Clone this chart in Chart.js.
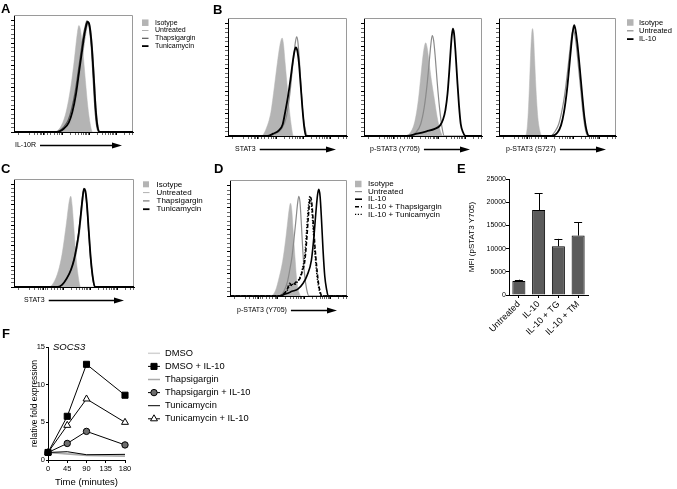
<!DOCTYPE html>
<html>
<head>
<meta charset="utf-8">
<script src="https://cdn.jsdelivr.net/npm/chart.js@4.4.1/dist/chart.umd.min.js"></script>
<style>
  html, body { margin: 0; padding: 0; background: #fff; }
  #fig { position: relative; width: 677px; height: 489px; overflow: hidden; font-family: "Liberation Sans", Arial, sans-serif; }
  #fig canvas { position: absolute; left: 0; top: 0; }
  .tag { position: absolute; font-weight: bold; font-size: 13px; line-height: 13px; }
  .gene { position: absolute; font-style: italic; font-size: 9.5px; line-height: 10px; }
</style>
</head>
<body>
<div id="fig">
  <canvas id="cA" width="677" height="489"></canvas>
  <canvas id="cB1" width="677" height="489"></canvas>
  <canvas id="cB2" width="677" height="489"></canvas>
  <canvas id="cB3" width="677" height="489"></canvas>
  <canvas id="cC" width="677" height="489"></canvas>
  <canvas id="cD" width="677" height="489"></canvas>
  <canvas id="cE" width="677" height="489"></canvas>
  <canvas id="cF" width="677" height="489"></canvas>
  <div class="tag" style="left:1px;top:2px">A</div>
  <div class="tag" style="left:213px;top:3px">B</div>
  <div class="tag" style="left:1px;top:162px">C</div>
  <div class="tag" style="left:214px;top:162px">D</div>
  <div class="tag" style="left:457px;top:162px">E</div>
  <div class="tag" style="left:2px;top:327px">F</div>
  <div class="gene" style="left:53px;top:342px">SOCS3</div>
</div>
<script>
// histogram x positions are % of the plot width, heights % of the plot height
const aIsoX = [0, 34, 39, 43, 46, 48.5, 50.5, 52, 53.3, 54.5, 55.7, 57, 58.5, 60, 62, 64, 66, 100];
const aIsoY = [0, 0, 4, 14, 28, 44, 60, 74, 85, 91, 88, 78, 62, 44, 22, 7, 0, 0];
const aUntX = [0, 36.5, 42.5, 46.5, 49.5, 52.5, 55, 57.5, 59.5, 61, 62.3, 63.5, 64.7, 66, 67.5, 69, 70.5, 72.5, 100];
const aUntY = [0, 0, 2, 6, 14, 28, 46, 64, 79, 88, 93, 92, 85, 70, 46, 21, 6, 0, 0];
const aThaX = [0, 35.5, 41.5, 45.5, 48.5, 51.5, 54, 56.5, 58.5, 60, 61.2, 62.4, 63.6, 65, 66.5, 68, 69.5, 71.5, 100];
const aThaY = [0, 0, 4, 10, 20, 35, 52, 70, 84, 91, 95, 94, 87, 72, 46, 20, 5, 0, 0];
const aTunX = [0, 36, 42, 46, 49, 52, 54.5, 57, 59, 60.5, 61.8, 63, 64.2, 65.5, 67, 68.5, 70, 72, 100];
const aTunY = [0, 0, 3, 8, 17, 32, 50, 68, 82, 90, 94, 93, 86, 72, 48, 22, 6, 0, 0];

const b1IsoX = [0, 28, 32, 36, 39, 41.5, 43.3, 44.5, 45.5, 46.6, 48, 49.5, 51, 53, 55, 100];
const b1IsoY = [0, 0, 6, 20, 42, 62, 75, 81, 83, 78, 62, 45, 28, 10, 0, 0];
const b1UntX = [0, 33, 40, 45, 49, 52, 54, 55.5, 56.7, 57.7, 58.7, 60, 61.5, 63, 65, 67, 100];
const b1UntY = [0, 0, 2, 6, 16, 36, 56, 70, 80, 84, 80, 64, 40, 18, 5, 0, 0];
const b1IlX = [0, 33, 38, 43, 46, 48, 50.5, 52.5, 54.3, 55.7, 57, 58.3, 59.6, 61, 62.5, 64, 65.5, 100];
const b1IlY = [0, 0, 2, 5, 10, 20, 34, 48, 62, 71, 75, 72, 62, 44, 24, 8, 0, 0];

const b2IsoX = [0, 35, 40, 43, 46, 48.3, 50, 51.2, 52.3, 53.5, 55, 57, 59.5, 62, 64.5, 67, 100];
const b2IsoY = [0, 0, 4, 12, 30, 52, 68, 76, 79, 75, 64, 48, 32, 16, 5, 0, 0];
const b2UntX = [0, 38, 44, 48, 51, 53.5, 55.3, 56.6, 57.8, 59, 60.3, 62, 64, 66, 68, 100];
const b2UntY = [0, 0, 3, 10, 24, 44, 63, 77, 85, 81, 68, 46, 24, 8, 0, 0];
const b2IlX = [0, 36, 45, 53, 60, 64.5, 67, 69, 70.8, 72.2, 73.4, 74.4, 75.3, 76.3, 77.5, 79, 80.5, 82, 84, 86, 100];
const b2IlY = [0, 0, 2, 4, 6, 9, 14, 22, 36, 54, 72, 85, 91, 87, 72, 48, 26, 10, 3, 0, 0];

const b3IsoX = [0, 22.5, 24, 25, 26, 27, 27.9, 28.7, 29.5, 30.4, 31.5, 33, 35, 37, 100];
const b3IsoY = [0, 0, 6, 20, 42, 68, 86, 91, 85, 66, 42, 18, 4, 0, 0];
const b3UntX = [0, 44, 48, 51, 53.5, 56, 58.3, 60.3, 62, 63.3, 64.6, 66.2, 68, 70, 72, 74, 76, 100];
const b3UntY = [0, 0, 4, 10, 20, 34, 52, 70, 84, 90, 87, 76, 58, 38, 18, 5, 0, 0];
const b3IlX = [0, 45, 50, 53, 55.5, 58, 60, 61.7, 63, 64.2, 65.4, 67, 69, 71, 73, 75, 77, 100];
const b3IlY = [0, 0, 3, 9, 20, 38, 58, 76, 88, 94, 90, 78, 58, 36, 16, 4, 0, 0];

const cIsoX = [0, 29, 33, 37, 40, 42, 43.8, 45.2, 46.3, 47.3, 48.4, 49.8, 51.5, 53.5, 55.5, 100];
const cIsoY = [0, 0, 4, 15, 30, 45, 60, 73, 81, 84, 76, 56, 30, 10, 0, 0];
const cUntX = [0, 36.5, 40.5, 44.5, 48, 50.5, 52.5, 54.5, 56, 57.3, 58.6, 59.8, 61, 62.5, 64.2, 66, 67.7, 100];
const cUntY = [0, 0, 2, 7, 15, 24, 35, 49, 65, 80, 89, 87, 75, 51, 25, 7, 0, 0];
const cThaX = [0, 35.8, 39.8, 43.8, 47.3, 49.8, 51.8, 53.8, 55.4, 56.8, 58.1, 59.3, 60.6, 62.1, 63.8, 65.6, 67.3, 100];
const cThaY = [0, 0, 2, 8, 16, 25, 36, 50, 66, 81, 90, 88, 76, 52, 26, 8, 0, 0];
const cTunX = [0, 36, 40, 44, 47.5, 50, 52, 54, 55.6, 57, 58.3, 59.5, 60.8, 62.3, 64, 65.8, 67.5, 100];
const cTunY = [0, 0, 2, 8, 16, 25, 36, 50, 66, 81, 91, 89, 76, 52, 26, 8, 0, 0];

const dIsoX = [0, 35, 39, 42, 45, 47.5, 49.3, 50.6, 51.7, 52.8, 54, 55.5, 57, 59, 61, 100];
const dIsoY = [0, 0, 5, 16, 30, 48, 64, 75, 80, 74, 56, 34, 14, 3, 0, 0];
const dUntX = [0, 42, 46, 49, 51, 53, 55, 56.6, 57.8, 58.8, 59.8, 61, 62.3, 63.8, 65.5, 67.5, 100];
const dUntY = [0, 0, 4, 12, 22, 34, 52, 68, 80, 86, 81, 62, 38, 18, 6, 0, 0];
const dIlX = [0, 42, 48, 53, 58, 62.5, 66, 69.6, 71.8, 73.4, 74.8, 75.9, 77, 78.2, 79.5, 81, 82.5, 84, 100];
const dIlY = [0, 0, 2, 4, 6, 11, 18, 31, 52, 72, 87, 92, 86, 66, 40, 17, 6, 0, 0];
const dThaX = [0, 42, 46, 49, 51, 53, 55.4, 57.5, 59.7, 62, 64, 65.8, 66.9, 67.9, 68.8, 69.8, 71, 72.5, 74, 75.5, 77, 78.5, 100];
const dThaY = [0, 0, 2, 6, 11, 9, 11, 13, 15, 22, 31, 52, 68, 80, 85, 81, 66, 44, 26, 12, 4, 0, 0];
const dTunX = [0, 42, 46, 49, 51, 53, 55.4, 57.5, 59.7, 62, 64, 65.3, 66.4, 67.4, 68.2, 69.2, 70.5, 72, 73.5, 75, 76.5, 78, 100];
const dTunY = [0, 0, 2, 5, 9, 10, 10, 12, 16, 24, 36, 54, 70, 81, 86, 82, 66, 44, 26, 12, 4, 0, 0];

// flow axis tick marks (biexponential look) and count axis tick marks
const flowTicks = [4, 13, 17, 20, 22, 23.5, 24.6, 26, 28, 31, 34, 36.5, 38.5, 40, 41, 47.8, 51.7, 54.5, 56.7, 58.5, 60, 61.3, 62.5, 63.5, 70.3, 74.2, 77, 79.2, 81, 82.5, 83.8, 85, 86, 92.8, 96.7, 99.5];
const flowMajor = [24.6, 41, 63.5, 86];
const countTicks = [0, 3.8, 7.6, 11.4, 15.2, 19, 22.8, 26.6, 30.4, 34.2, 38, 41.8, 45.6, 49.4, 53.2, 57, 60.8, 64.6, 68.4, 72.2, 76, 79.8, 83.6, 87.4, 91.2, 95];
const countMajor = [0, 19, 38, 57, 76, 95];

// panel E
const eLabels = ['Untreated', 'IL-10', 'IL-10 + TG', 'IL-10 + TM'];
const eMeans = [3000, 18300, 10500, 12800];
const eSem = [300, 3600, 1600, 2900];

// panel F
const fTimes = [0, 45, 90, 180];
const fDmso = [1, 0.85, 0.7, 0.6];
const fDmsoIl10 = [1, 5.8, 12.7, 8.6];
const fThap = [1, 0.8, 0.6, 0.5];
const fThapIl10 = [1, 2.2, 3.8, 2.0];
const fTuni = [1, 1.1, 0.7, 0.75];
const fTuniIl10 = [1, 4.6, 8.1, 5.0];

const PAGE_W = 677, PAGE_H = 489;
const FONT = '"Liberation Sans", Arial, Helvetica, sans-serif';
Chart.defaults.font.family = FONT;
Chart.defaults.color = '#000';

function pts(xs, ys) {
    return xs.map((x, i) => ({ x: x, y: ys[i] }));
}

function isoSet(xs, ys) {
    return {
        label: 'Isotype', data: pts(xs, ys), fill: 'origin',
        backgroundColor: '#b4b4b4', borderColor: '#b4b4b4', borderWidth: 0.5,
        pointRadius: 0, cubicInterpolationMode: 'monotone', order: 10
    };
}

function lineSet(label, xs, ys, color, width, dash, order) {
    return {
        label: label, data: pts(xs, ys), fill: false,
        borderColor: color, borderWidth: width, borderDash: dash || [],
        pointRadius: 0, cubicInterpolationMode: 'monotone', order: order
    };
}

function drawMarker(ctx, ds, x, y) {
    const r = ds.pointRadius;
    ctx.fillStyle = ds.pointBackgroundColor;
    ctx.strokeStyle = ds.pointBorderColor;
    ctx.lineWidth = ds.pointBorderWidth;
    ctx.beginPath();
    if (ds.pointStyle === 'rect') {
        const s = Math.SQRT1_2 * r;
        ctx.rect(x - s, y - s, 2 * s, 2 * s);
    } else if (ds.pointStyle === 'triangle') {
        ctx.moveTo(x, y - r);
        ctx.lineTo(x + Math.sin(2 * Math.PI / 3) * r, y - Math.cos(2 * Math.PI / 3) * r);
        ctx.lineTo(x + Math.sin(4 * Math.PI / 3) * r, y - Math.cos(4 * Math.PI / 3) * r);
        ctx.closePath();
    } else {
        ctx.arc(x, y, r, 0, Math.PI * 2);
    }
    ctx.fill();
    ctx.stroke();
}

// legend drawn beside the plot, built from the datasets
const sideLegend = {
    id: 'sideLegend',
    afterDraw(chart, args, o) {
        const ctx = chart.ctx;
        ctx.save();
        ctx.font = o.size + 'px ' + FONT;
        ctx.textBaseline = 'middle';
        ctx.textAlign = 'left';
        chart.data.datasets.forEach((ds, i) => {
            const y = o.y + i * o.step;
            if (ds.fill) {
                ctx.fillStyle = ds.backgroundColor;
                ctx.fillRect(o.x, y - o.box / 2, o.box, o.box);
            } else {
                ctx.strokeStyle = ds.borderColor;
                ctx.lineWidth = ds.borderWidth;
                ctx.setLineDash(ds.borderDash || []);
                ctx.beginPath();
                ctx.moveTo(o.x, y);
                ctx.lineTo(o.x + o.w, y);
                ctx.stroke();
                ctx.setLineDash([]);
                if (ds.pointRadius) drawMarker(ctx, ds, o.x + o.w / 2, y);
            }
            ctx.fillStyle = '#000';
            ctx.fillText(ds.label, o.textX, y);
        });
        ctx.restore();
    }
};

// x axis label of the flow panels, followed by an arrow
const axisArrow = {
    id: 'axisArrow',
    afterDraw(chart, args, o) {
        const ctx = chart.ctx;
        ctx.save();
        ctx.font = o.size + 'px ' + FONT;
        ctx.fillStyle = '#000';
        ctx.textBaseline = 'middle';
        ctx.fillText(o.text, o.tx, o.ty);
        const tw = ctx.measureText(o.text).width;
        const y = Math.round(o.ty) + 0.5;
        const x0 = o.tx + tw + 4;
        ctx.strokeStyle = '#000';
        ctx.lineWidth = 1.3;
        ctx.beginPath();
        ctx.moveTo(x0, y);
        ctx.lineTo(o.end - 8, y);
        ctx.stroke();
        ctx.beginPath();
        ctx.moveTo(o.end, y);
        ctx.lineTo(o.end - 10, y - 3);
        ctx.lineTo(o.end - 10, y + 3);
        ctx.closePath();
        ctx.fill();
        ctx.restore();
    }
};

// light grey frame on top and right of the flow panels
const grayBox = {
    id: 'grayBox',
    beforeDatasetsDraw(chart) {
        const { ctx, chartArea: a } = chart;
        ctx.save();
        ctx.strokeStyle = '#9a9a9a';
        ctx.lineWidth = 1;
        ctx.beginPath();
        ctx.moveTo(a.left, Math.round(a.top) + 0.5);
        ctx.lineTo(Math.round(a.right) - 0.5, Math.round(a.top) + 0.5);
        ctx.lineTo(Math.round(a.right) - 0.5, a.bottom);
        ctx.stroke();
        ctx.restore();
    }
};

const errorBars = {
    id: 'errorBars',
    afterDatasetsDraw(chart) {
        const ctx = chart.ctx;
        const ys = chart.scales.y;
        const ds = chart.data.datasets[0];
        chart.getDatasetMeta(0).data.forEach((bar, i) => {
            const top = ys.getPixelForValue(ds.data[i] + ds.errors[i]);
            ctx.save();
            ctx.strokeStyle = '#000';
            ctx.lineWidth = 1;
            ctx.beginPath();
            ctx.moveTo(Math.round(bar.x) + 0.5, bar.y);
            ctx.lineTo(Math.round(bar.x) + 0.5, top);
            ctx.moveTo(bar.x - 4, Math.round(top) + 0.5);
            ctx.lineTo(bar.x + 4, Math.round(top) + 0.5);
            ctx.stroke();
            ctx.restore();
        });
    }
};

// lab: {text, tx, ty, end} for the axis label and arrow
function histChart(id, area, lab, datasets, legend) {
    return new Chart(document.getElementById(id), {
        type: 'line',
        data: { datasets: datasets },
        options: {
            responsive: false,
            animation: false,
            events: [],
            layout: { padding: { left: area.l - 3, top: area.t, right: PAGE_W - area.r, bottom: PAGE_H - area.b - 20 } },
            plugins: {
                legend: { display: false },
                tooltip: { enabled: false },
                sideLegend: legend || false,
                axisArrow: Object.assign({ size: 7 }, lab)
            },
            scales: {
                x: {
                    type: 'linear', min: 0, max: 100,
                    afterBuildTicks: (s) => { s.ticks = flowTicks.map((v) => ({ value: v })); },
                    afterFit: (s) => { s.height = 20; },
                    grid: {
                        drawOnChartArea: false, tickLength: 3, color: '#000',
                        tickWidth: (c) => (c.tick && flowMajor.includes(c.tick.value) ? 1 : 0.6)
                    },
                    border: { color: '#000', width: 1 },
                    ticks: { display: false }
                },
                y: {
                    type: 'linear', min: 0, max: 100,
                    afterBuildTicks: (s) => { s.ticks = countTicks.map((v) => ({ value: v })); },
                    afterFit: (s) => { s.width = 3; },
                    grid: {
                        drawOnChartArea: false, tickLength: 3, color: '#000',
                        tickWidth: (c) => (c.tick && countMajor.includes(c.tick.value) ? 1 : 0.6)
                    },
                    border: { color: '#000', width: 1 },
                    ticks: { display: false }
                }
            }
        },
        plugins: [grayBox, axisArrow, sideLegend]
    });
}

const UNT_LIGHT = '#b0b0b0', GREY = '#8a8a8a';

histChart('cA', { l: 14, t: 15, r: 133, b: 132 }, { text: 'IL-10R', tx: 15, ty: 145, end: 122 }, [
    isoSet(aIsoX, aIsoY),
    lineSet('Untreated', aUntX, aUntY, UNT_LIGHT, 1, null, 2),
    lineSet('Thapsigargin', aThaX, aThaY, '#555', 1.2, null, 1),
    lineSet('Tunicamycin', aTunX, aTunY, '#000', 1.8, null, 0)
], { x: 142, w: 6.5, box: 6.5, textX: 155, y: 22.7, step: 7.8, size: 7 });

histChart('cB1', { l: 228, t: 18, r: 347, b: 136 }, { text: 'STAT3', tx: 235, ty: 149, end: 336 }, [
    isoSet(b1IsoX, b1IsoY),
    lineSet('Untreated', b1UntX, b1UntY, GREY, 1.2, null, 1),
    lineSet('IL-10', b1IlX, b1IlY, '#000', 1.8, null, 0)
], null);

histChart('cB2', { l: 364, t: 18, r: 482, b: 136 }, { text: 'p-STAT3 (Y705)', tx: 370, ty: 149, end: 470 }, [
    isoSet(b2IsoX, b2IsoY),
    lineSet('Untreated', b2UntX, b2UntY, GREY, 1.2, null, 1),
    lineSet('IL-10', b2IlX, b2IlY, '#000', 1.8, null, 0)
], null);

histChart('cB3', { l: 499, t: 18, r: 616, b: 136 }, { text: 'p-STAT3 (S727)', tx: 506, ty: 149, end: 606 }, [
    isoSet(b3IsoX, b3IsoY),
    lineSet('Untreated', b3UntX, b3UntY, GREY, 1.2, null, 1),
    lineSet('IL-10', b3IlX, b3IlY, '#000', 1.8, null, 0)
], { x: 627, w: 6.5, box: 6.5, textX: 639, y: 22.5, step: 8.3, size: 7.5 });

histChart('cC', { l: 14, t: 179, r: 134, b: 287 }, { text: 'STAT3', tx: 24, ty: 300, end: 124 }, [
    isoSet(cIsoX, cIsoY),
    lineSet('Untreated', cUntX, cUntY, UNT_LIGHT, 1, null, 2),
    lineSet('Thapsigargin', cThaX, cThaY, '#777', 1.2, null, 1),
    lineSet('Tunicamycin', cTunX, cTunY, '#000', 1.8, null, 0)
], { x: 143, w: 6.5, box: 6, textX: 156.5, y: 184.3, step: 8.3, size: 8 });

histChart('cD', { l: 230, t: 180, r: 347, b: 296 }, { text: 'p-STAT3 (Y705)', tx: 237, ty: 310, end: 337 }, [
    isoSet(dIsoX, dIsoY),
    lineSet('Untreated', dUntX, dUntY, GREY, 1.2, null, 3),
    lineSet('IL-10', dIlX, dIlY, '#000', 1.6, null, 0),
    lineSet('IL-10 + Thapsigargin', dThaX, dThaY, '#000', 1.6, [4, 2], 1),
    lineSet('IL-10 + Tunicamycin', dTunX, dTunY, '#000', 1.4, [1.2, 1.6], 2)
], { x: 355, w: 7, box: 6.5, textX: 368, y: 184, step: 7.6, size: 8 });

// E: bar chart with SEM bars
new Chart(document.getElementById('cE'), {
    type: 'bar',
    data: {
        labels: eLabels,
        datasets: [{
            data: eMeans, errors: eSem,
            backgroundColor: '#5b5b5b', borderColor: '#000', borderWidth: 1,
            barPercentage: 0.66, categoryPercentage: 1
        }]
    },
    options: {
        responsive: false,
        animation: false,
        events: [],
        layout: { padding: { left: 463, top: 179, right: PAGE_W - 588, bottom: PAGE_H - 295 - 60 } },
        plugins: { legend: { display: false }, tooltip: { enabled: false } },
        scales: {
            x: {
                afterFit: (s) => { s.height = 60; },
                grid: { drawOnChartArea: false, offset: false, tickLength: 3, color: '#000' },
                border: { color: '#000', width: 1 },
                ticks: { font: { size: 9 }, maxRotation: 45, minRotation: 45, padding: 1 }
            },
            y: {
                min: 0, max: 25000,
                afterFit: (s) => { s.width = 46; },
                grid: { drawOnChartArea: false, tickLength: 3, color: '#000' },
                border: { color: '#000', width: 1 },
                ticks: { stepSize: 5000, font: { size: 7 }, padding: 0, callback: (v) => String(v) },
                title: { display: true, text: 'MFI (pSTAT3 Y705)', font: { size: 8 }, padding: { top: 4, bottom: 0 } }
            }
        }
    },
    plugins: [errorBars]
});

// F: SOCS3 time course
function fSet(label, ys, color, width, style, radius, fillCol, order) {
    return {
        label: label, data: pts(fTimes, ys),
        borderColor: color, borderWidth: width, fill: false, tension: 0,
        pointStyle: style || 'circle', pointRadius: radius || 0,
        pointBackgroundColor: fillCol || color, pointBorderColor: '#000', pointBorderWidth: 1,
        clip: false, order: order
    };
}

new Chart(document.getElementById('cF'), {
    type: 'line',
    data: {
        datasets: [
            fSet('DMSO', fDmso, '#d2d2d2', 1.5, null, 0, null, 5),
            fSet('DMSO + IL-10', fDmsoIl10, '#000', 1, 'rect', 4.3, '#000', 0),
            fSet('Thapsigargin', fThap, '#aaaaaa', 1.5, null, 0, null, 4),
            fSet('Thapsigargin + IL-10', fThapIl10, '#000', 1, 'circle', 3.2, '#6e6e6e', 1),
            fSet('Tunicamycin', fTuni, '#000', 1, null, 0, null, 3),
            fSet('Tunicamycin + IL-10', fTuniIl10, '#000', 1, 'triangle', 4, '#fff', 2)
        ]
    },
    options: {
        responsive: false,
        animation: false,
        events: [],
        layout: { padding: { left: 29, top: 347, right: PAGE_W - 125, bottom: PAGE_H - 460 - 28 } },
        plugins: {
            legend: { display: false },
            tooltip: { enabled: false },
            sideLegend: { x: 148, w: 12, box: 6, textX: 165, y: 353.3, step: 13.1, size: 9.3 }
        },
        scales: {
            x: {
                type: 'linear', min: 0, max: 180,
                afterFit: (s) => { s.height = 28; },
                grid: { drawOnChartArea: false, tickLength: 3, color: '#000' },
                border: { color: '#000', width: 1 },
                ticks: { stepSize: 45, font: { size: 7.5 }, padding: 1 },
                title: { display: true, text: 'Time (minutes)', font: { size: 9.5 }, padding: { top: 0, bottom: 0 } }
            },
            y: {
                min: 0, max: 15,
                afterFit: (s) => { s.width = 19; },
                grid: { drawOnChartArea: false, tickLength: 2, color: '#000' },
                border: { color: '#000', width: 1 },
                ticks: { stepSize: 5, font: { size: 7.5 }, padding: 1 },
                title: { display: true, text: 'relative fold expression', font: { size: 8.5 }, padding: { top: 0.5, bottom: 0 } }
            }
        }
    },
    plugins: [sideLegend]
});
</script>
</body>
</html>
